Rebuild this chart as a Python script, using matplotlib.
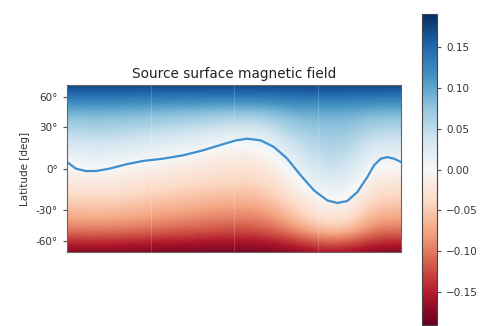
import numpy as np
import matplotlib
matplotlib.use("Agg")
import matplotlib.pyplot as plt

# ---- data ----
# grid nodes: longitude (deg) and sine(latitude)
lon_nodes = [0, 30, 60, 90, 120, 150, 180, 210, 240, 270, 300, 330, 360]
sinlat_nodes = [-1.0, -0.75, -0.5, -0.25, 0.0, 0.25, 0.5, 0.75, 1.0]
# Br values, one list per longitude column (south -> north)
br_lon000 = [-0.185, -0.100, -0.060, -0.030, -0.005, 0.025, 0.060, 0.100, 0.185]
br_lon030 = [-0.185, -0.097, -0.056, -0.025, 0.002, 0.030, 0.064, 0.103, 0.185]
br_lon060 = [-0.185, -0.100, -0.060, -0.029, -0.004, 0.026, 0.061, 0.101, 0.185]
br_lon090 = [-0.19, -0.106, -0.066, -0.036, -0.012, 0.018, 0.056, 0.099, 0.185]
br_lon120 = [-0.19, -0.112, -0.072, -0.041, -0.017, 0.011, 0.051, 0.097, 0.185]
br_lon150 = [-0.19, -0.118, -0.077, -0.046, -0.023, 0.002, 0.043, 0.095, 0.185]
br_lon180 = [-0.19, -0.124, -0.083, -0.050, -0.029, -0.008, 0.034, 0.094, 0.185]
br_lon210 = [-0.19, -0.120, -0.080, -0.048, -0.027, -0.005, 0.036, 0.094, 0.185]
br_lon240 = [-0.185, -0.094, -0.050, -0.021, 0.003, 0.034, 0.066, 0.104, 0.185]
br_lon270 = [-0.17, -0.055, -0.017, 0.011, 0.040, 0.056, 0.075, 0.105, 0.185]
br_lon300 = [-0.17, -0.048, -0.011, 0.016, 0.044, 0.060, 0.078, 0.105, 0.185]
br_lon330 = [-0.185, -0.100, -0.061, -0.031, -0.007, 0.023, 0.059, 0.100, 0.185]
br_lon360 = [-0.185, -0.100, -0.060, -0.030, -0.005, 0.025, 0.060, 0.100, 0.185]

# polarity inversion line (longitude deg, latitude deg)
pil_lon = [0, 9.7, 20.5, 31.3, 45.6, 63.6, 81.6, 103.1, 124.7, 146.3, 164.2,
           182.2, 194.3, 208.8, 223.1, 237.4, 251.9, 266.2, 280.6, 291.3,
           302.1, 312.9, 323.7, 330.9, 338.1, 345.2, 352.5, 360]
pil_lat = [4.6, 0.0, -1.6, -1.6, 0.0, 3.0, 5.3, 6.9, 9.2, 12.7, 16.3,
           19.9, 21.1, 19.9, 15.1, 6.9, -4.6, -15.1, -22.4, -24.3,
           -22.8, -16.3, -5.7, 2.3, 6.9, 8.0, 6.9, 4.6]

lat_ticks = [-60, -30, 0, 30, 60]
lat_labels = ["-60°", "-30°", "0°", "30°", "60°"]
cbar_ticks = [-0.15, -0.10, -0.05, 0.0, 0.05, 0.10, 0.15]
vmin, vmax = -0.19, 0.19

# ---- figure ----
fig = plt.figure(figsize=(4.82, 3.26), dpi=100)
ax = fig.add_axes([0.139, 0.227, 0.693, 0.511])
cax = fig.add_axes([0.876, 0.003, 0.031, 0.954])

columns = [br_lon000, br_lon030, br_lon060, br_lon090, br_lon120, br_lon150,
           br_lon180, br_lon210, br_lon240, br_lon270, br_lon300, br_lon330,
           br_lon360]
field = np.array(columns).T  # rows: sinlat, cols: lon
dlon = lon_nodes[1] - lon_nodes[0]
ds = sinlat_nodes[1] - sinlat_nodes[0]
extent = [lon_nodes[0] - dlon / 2, lon_nodes[-1] + dlon / 2,
          sinlat_nodes[0] - ds / 2, sinlat_nodes[-1] + ds / 2]
im = ax.imshow(field, origin="lower", extent=extent, aspect="auto",
               cmap="RdBu", vmin=vmin, vmax=vmax, interpolation="bicubic")

ax.plot(pil_lon, np.sin(np.radians(pil_lat)), color="#3d8fcf", lw=1.6,
        solid_joinstyle="round")

ax.set_xlim(0, 360)
ax.set_ylim(-1, 1)
ax.set_xticks([90, 180, 270])
ax.set_xticklabels([])
ax.tick_params(axis="x", length=0)
ax.grid(axis="x", color="white", alpha=0.18, lw=0.8)
ax.set_yticks(np.sin(np.radians(lat_ticks)))
ax.set_yticklabels(lat_labels, fontsize=7.5, color="#333333")
ax.tick_params(axis="y", length=3, color="#555555")
ax.set_ylabel("Latitude [deg]", fontsize=7.5, color="#333333")
ax.set_title("Source surface magnetic field", fontsize=9.8, color="#222222", pad=5)
for sp in ax.spines.values():
    sp.set_color("#666666")

cb = fig.colorbar(im, cax=cax, ticks=cbar_ticks)
cb.ax.tick_params(labelsize=7.5, labelcolor="#333333", length=3, color="#555555")
cb.outline.set_edgecolor("#444444")

fig.savefig("out.png", dpi=100)
